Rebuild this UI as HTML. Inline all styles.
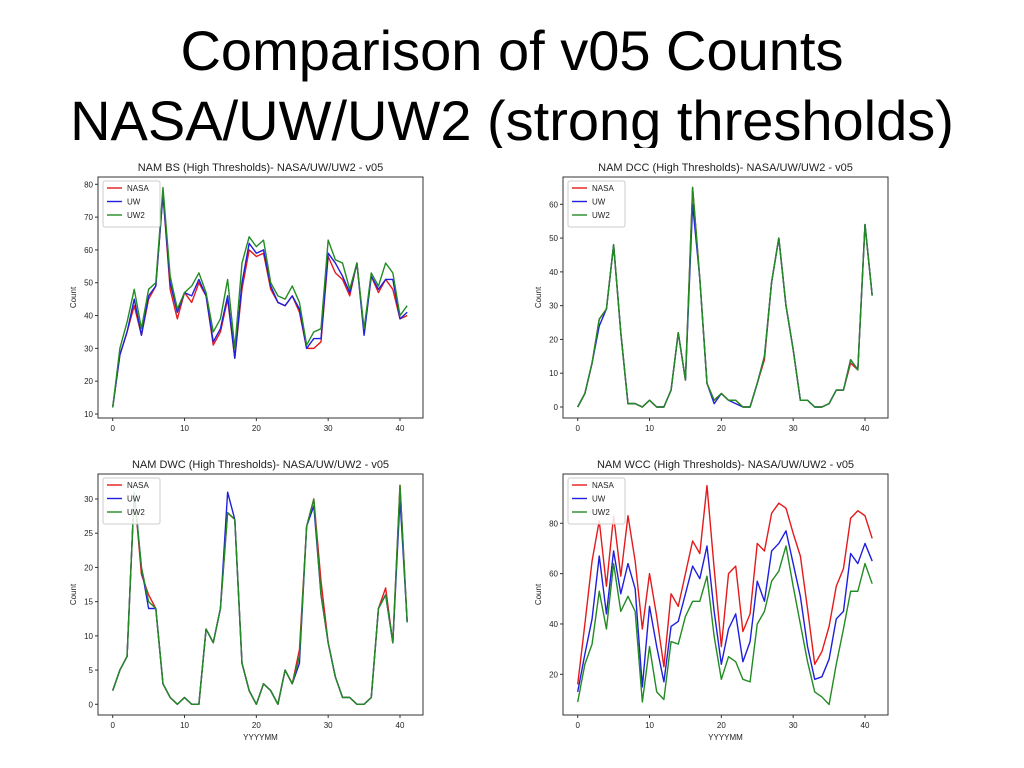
<!DOCTYPE html>
<html><head><meta charset="utf-8"><style>
html,body{margin:0;padding:0;background:#fff;width:1024px;height:768px;overflow:hidden}
#title{position:absolute;left:0;top:0;width:1024px;height:148px;overflow:hidden;text-align:center;font-family:"Liberation Sans",sans-serif;font-size:56px;line-height:70px;color:#000;padding-top:16px;box-sizing:border-box;white-space:nowrap}
svg{position:absolute;left:0;top:0}
text{font-family:"Liberation Sans","DejaVu Sans",sans-serif;fill:#222}
</style></head><body>
<div id="title">Comparison of v05 Counts<br>NASA/UW/UW2 (strong thresholds)</div>
<svg id="svg" width="1024" height="768"></svg>
<script>
const xIdx = Array.from({length:42},(_,i)=>i);
const bsNasa=[12,28,35,43,34,45,49,77,48,39,47,44,50,46,31,35,45,27,48,60,58,59,48,44,43,46,41,30,30,32,58,53,51,46,56,35,52,47,51,48,39,40];
const bsUw=[12,28,35,45,34,46,49,77,50,41,47,46,51,46,32,36,46,27,50,62,59,60,49,44,43,46,42,30,33,33,59,56,52,47,56,34,52,48,51,51,39,41];
const bsUw2=[12,30,38,48,36,48,50,79,52,42,47,49,53,47,35,39,51,30,56,64,61,63,50,46,45,49,44,31,35,36,63,57,56,48,56,36,53,49,56,53,40,43];
const dccNasa=[0,4,13,26,29,48,22,1,1,0,2,0,0,5,22,8,65,38,7,2,4,2,2,0,0,7,14,37,50,30,17,2,2,0,0,1,5,5,13,11,54,33];
const dccUw=[0,4,13,24,29,48,22,1,1,0,2,0,0,5,22,8,60,38,7,1,4,2,1,0,0,7,15,37,50,30,17,2,2,0,0,1,5,5,14,11,54,33];
const dccUw2=[0,4,13,26,29,48,22,1,1,0,2,0,0,5,22,8,65,38,7,2,4,2,2,0,0,7,15,37,50,30,17,2,2,0,0,1,5,5,14,11,54,33];
const dwcNasa=[2,5,7,31,19,16,14,3,1,0,1,0,0,11,9,14,28,27,6,2,0,3,2,0,5,3,8,26,30,18,9,4,1,1,0,0,1,14,17,9,32,12];
const dwcUw=[2,5,7,31,20,14,14,3,1,0,1,0,0,11,9,14,31,27,6,2,0,3,2,0,5,3,6,26,29,16,9,4,1,1,0,0,1,14,16,9,30,12];
const dwcUw2=[2,5,7,31,20,15,14,3,1,0,1,0,0,11,9,14,28,27,6,2,0,3,2,0,5,3,7,26,30,16,9,4,1,1,0,0,1,14,16,9,32,12];
const wccNasa=[16,40,65,81,55,83,59,83,65,38,60,43,23,52,47,60,73,68,95,62,31,60,63,37,44,72,69,84,88,86,76,67,46,24,29,39,55,62,82,85,83,74];
const wccUw=[13,28,42,67,44,69,52,64,54,15,47,31,17,39,41,52,63,58,71,45,24,38,44,25,33,57,49,69,72,77,64,51,31,18,19,26,42,45,68,64,72,65];
const wccUw2=[9,24,32,53,38,64,45,51,45,9,31,13,10,33,32,43,49,49,59,35,18,27,25,18,17,40,45,57,61,71,55,40,25,13,11,8,24,38,53,53,64,56];
const xTicks=[0,10,20,30,40];
const bsTicks=[10,20,30,40,50,60,70,80];
const dccTicks=[0,10,20,30,40,50,60];
const dwcTicks=[0,5,10,15,20,25,30];
const wccTicks=[20,40,60,80];
const NS='http://www.w3.org/2000/svg';
const svg=document.getElementById('svg');
function mk(tag,attrs,parent){const e=document.createElementNS(NS,tag);for(const k in attrs)e.setAttribute(k,attrs[k]);(parent||svg).appendChild(e);return e;}
const colors=['#e41a1c','#1f1fdd','#238b23'];
const names=['NASA','UW','UW2'];
function chart(o){
  const g=mk('g',{});
  
  
  const L=o.x0-14.7, R=L+325, T=o.top, B=T+241;
  const xs=v=>o.x0+(v-0)*(287.3/40);
  const ys=v=>o.yA+(v-o.vA)*(o.yB-o.yA)/(o.vB-o.vA);
  const fr=mk('rect',{x:L,y:T,width:325,height:241,fill:'none',stroke:'#333','stroke-width':1},g);
  
  
  const t=mk('text',{x:(L+R)/2,y:T-6,'text-anchor':'middle','font-size':11},g);
  t.textContent=o.title;
  
  
  xTicks.forEach(v=>{const x=xs(v);mk('line',{x1:x,x2:x,y1:B,y2:B+3,stroke:'#333'},g);
    const tt=mk('text',{x:x,y:B+13,'text-anchor':'middle','font-size':8},g);tt.textContent=v;
    
    });
  o.ticks.forEach(v=>{const y=ys(v);mk('line',{x1:L-3,x2:L,y1:y,y2:y,stroke:'#333'},g);
    const tt=mk('text',{x:L-5,y:y+3,'text-anchor':'end','font-size':8},g);tt.textContent=v;
    
    });
  const yl=mk('text',{x:0,y:0,'text-anchor':'middle','font-size':8,transform:`translate(${L-22},${(T+B)/2}) rotate(-90)`},g);
  yl.textContent='Count';
  
  
  if(o.xlabel){const xl=mk('text',{x:(L+R)/2,y:B+25,'text-anchor':'middle','font-size':8},g);xl.textContent='YYYYMM';
    
    }
  o.series.forEach((s,i)=>{
    const p=mk('polyline',{points:s.map((v,j)=>xs(xIdx[j])+','+ys(v)).join(' '),fill:'none',stroke:colors[i],'stroke-width':1.4,'stroke-linejoin':'round'},g);
    
    
  });
  const lg=mk('g',{},g);
  
  
  mk('rect',{x:L+5,y:T+4,width:57,height:46,fill:'#fff','fill-opacity':0.85,stroke:'#ccc',rx:2},lg);
  names.forEach((n,i)=>{const y=T+11+i*13.5;
    mk('line',{x1:L+9,x2:L+24,y1:y,y2:y,stroke:colors[i],'stroke-width':1.4},lg);
    const tt=mk('text',{x:L+29,y:y+3,'font-size':8},lg);tt.textContent=n;
    
    });
}
chart({name:'bs-chart',title:'NAM BS (High Thresholds)- NASA/UW/UW2 - v05',x0:112.7,top:177,vA:80,yA:184.3,vB:10,yB:414,ticks:bsTicks,series:[bsNasa,bsUw,bsUw2]});
chart({name:'dcc-chart',title:'NAM DCC (High Thresholds)- NASA/UW/UW2 - v05',x0:577.7,top:177,vA:0,yA:407,vB:60,yB:204.3,ticks:dccTicks,series:[dccNasa,dccUw,dccUw2]});
chart({name:'dwc-chart',title:'NAM DWC (High Thresholds)- NASA/UW/UW2 - v05',x0:112.7,top:474,vA:0,yA:704.3,vB:30,yB:499,ticks:dwcTicks,series:[dwcNasa,dwcUw,dwcUw2],xlabel:true});
chart({name:'wcc-chart',title:'NAM WCC (High Thresholds)- NASA/UW/UW2 - v05',x0:577.7,top:474,vA:20,yA:674.3,vB:80,yB:523.3,ticks:wccTicks,series:[wccNasa,wccUw,wccUw2],xlabel:true});
</script>
</body></html>
